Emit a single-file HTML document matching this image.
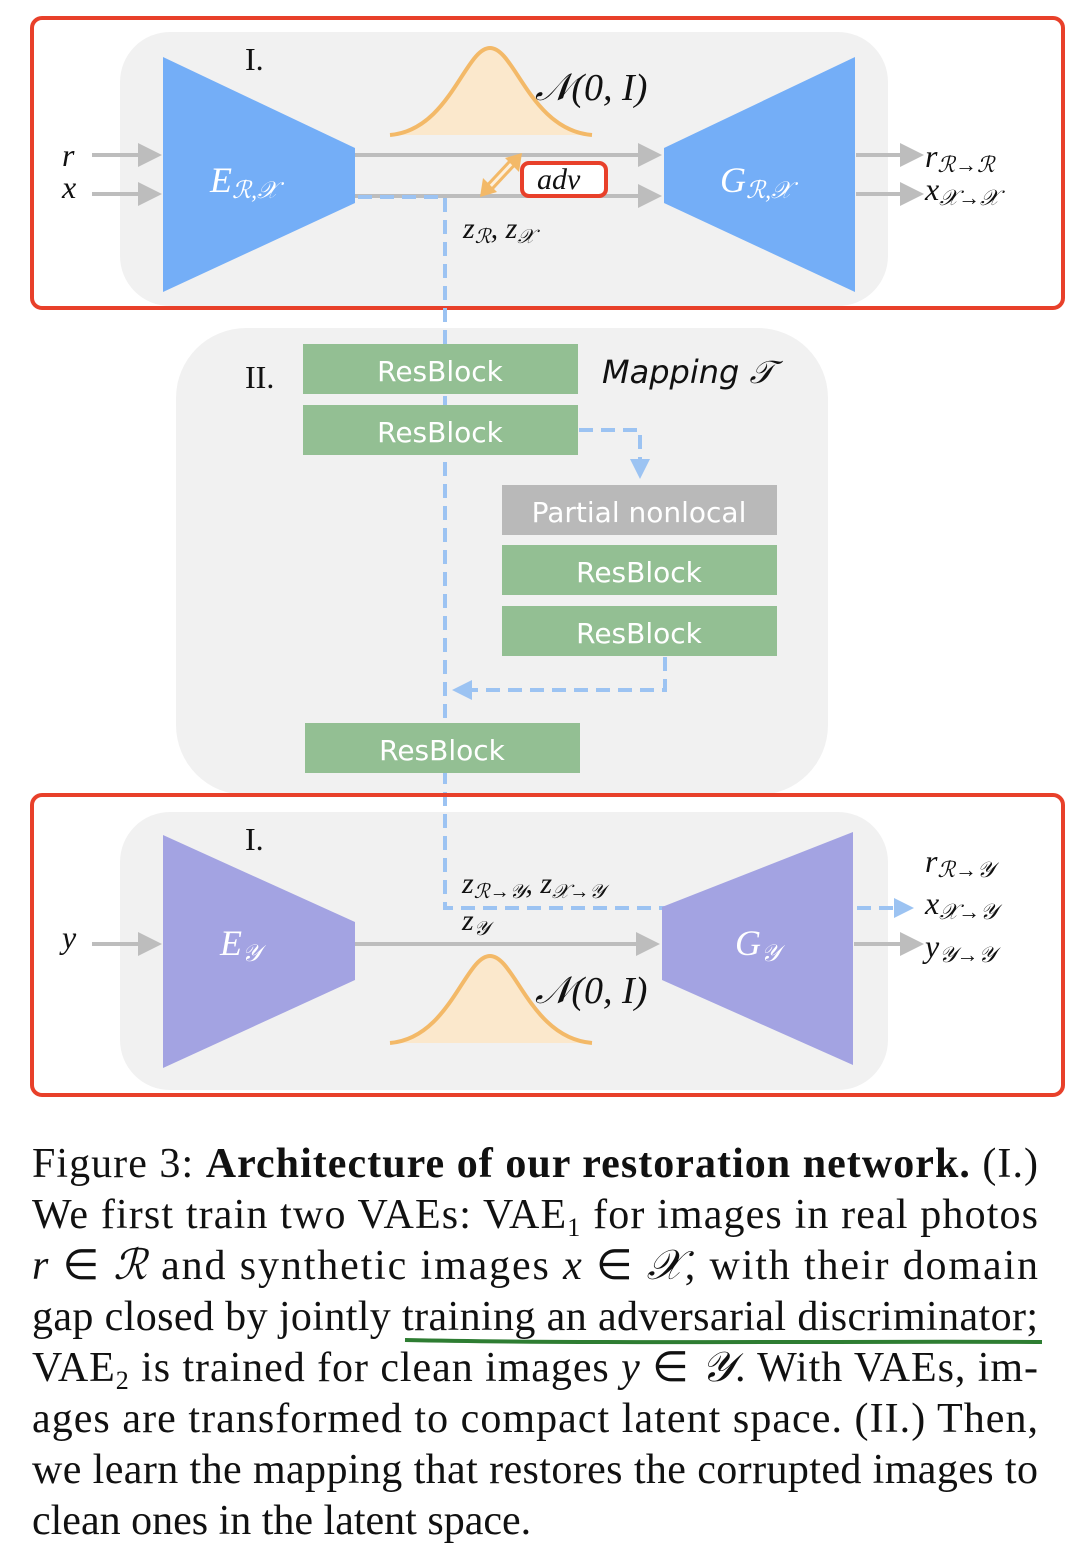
<!DOCTYPE html>
<html><head><meta charset="utf-8"><style>
html,body{margin:0;padding:0;background:#fff}
svg{display:block}
.m{font-family:"Liberation Serif",serif;font-style:italic;fill:#111}
.w{font-family:"Liberation Serif",serif;font-style:italic;fill:#fff}
.rb{font-family:"DejaVu Sans","Liberation Sans",sans-serif;fill:#fff;font-size:28px}
.c{font-family:"Liberation Serif",serif;font-size:42px;fill:#111}
</style></head><body>
<svg width="1082" height="1564" viewBox="0 0 1082 1564" xmlns="http://www.w3.org/2000/svg">
<defs>
<marker id="ag" markerWidth="6" markerHeight="6" refX="5" refY="3" orient="auto" markerUnits="strokeWidth"><path d="M0,0 L6,3 L0,6 z" fill="#bdbdbd"/></marker>
<marker id="ab" markerWidth="5" markerHeight="5" refX="4" refY="2.5" orient="auto" markerUnits="strokeWidth"><path d="M0,0 L5,2.5 L0,5 z" fill="#9cc3f2"/></marker>
</defs>
<!-- top panel -->
<rect x="120" y="32" width="768" height="274" rx="50" fill="#f1f1f1"/>
<rect x="176" y="328" width="652" height="467" rx="70" fill="#f1f1f1"/>
<rect x="120" y="812" width="768" height="278" rx="50" fill="#f1f1f1"/>
<rect x="32" y="18" width="1031" height="290" rx="10" fill="none" stroke="#e8402a" stroke-width="4"/>
<text x="245" y="70" class="c" style="font-size:32px">I.</text>
<path d="M390,135 C450,130 465,48 490,48 C515,48 530,130 592,135" fill="#fbe8cc" stroke="#f3b968" stroke-width="4"/>
<text x="535" y="100" class="m" style="font-size:38px">𝒩(0, I)</text>
<polygon points="163,57 355,148 355,203 163,292" fill="#74aef7"/>
<polygon points="664,148 855,57 855,292 664,203" fill="#74aef7"/>
<text x="210" y="192" class="w" style="font-size:36px">E<tspan font-size="24" dy="6">ℛ,𝒳</tspan></text>
<text x="720" y="192" class="w" style="font-size:36px">G<tspan font-size="24" dy="6">ℛ,𝒳</tspan></text>
<text x="62" y="166" class="m" style="font-size:32px">r</text>
<text x="62" y="198" class="m" style="font-size:32px">x</text>
<line x1="92" y1="155" x2="158" y2="155" stroke="#bdbdbd" stroke-width="4" marker-end="url(#ag)"/>
<line x1="92" y1="194" x2="158" y2="194" stroke="#bdbdbd" stroke-width="4" marker-end="url(#ag)"/>
<line x1="355" y1="155" x2="658" y2="155" stroke="#bdbdbd" stroke-width="4" marker-end="url(#ag)"/>
<line x1="355" y1="196" x2="658" y2="196" stroke="#bdbdbd" stroke-width="4" marker-end="url(#ag)"/>
<line x1="856" y1="155" x2="920" y2="155" stroke="#bdbdbd" stroke-width="4" marker-end="url(#ag)"/>
<line x1="856" y1="194" x2="920" y2="194" stroke="#bdbdbd" stroke-width="4" marker-end="url(#ag)"/>
<text x="925" y="167" class="m" style="font-size:32px">r<tspan font-size="22" dy="5">ℛ→ℛ</tspan></text>
<text x="925" y="200" class="m" style="font-size:32px">x<tspan font-size="22" dy="5">𝒳→𝒳</tspan></text>
<path d="M487,190 L515,160" stroke="#f3b968" stroke-width="9"/>
<path d="M487,190 L515,160" stroke="#fdf0dc" stroke-width="3"/>
<polygon points="480,197 483,178 497,192" fill="#f3b968"/>
<polygon points="522,153 519,172 505,158" fill="#f3b968"/>
<rect x="522" y="163" width="84" height="33" rx="7" fill="#fff" stroke="#e8402a" stroke-width="4"/>
<text x="537" y="189" class="m" style="font-size:30px">adv</text>
<text x="463" y="238" class="m" style="font-size:30px">z<tspan font-size="20" dy="5">ℛ</tspan><tspan dy="-5">, z</tspan><tspan font-size="20" dy="5">𝒳</tspan></text>
<!-- dashed lines (behind blocks) -->
<path d="M358,197 L445,197 L445,908 L910,908" fill="none" stroke="#9cc3f2" stroke-width="4" stroke-dasharray="14,8" marker-end="url(#ab)"/>
<path d="M579,430 L640,430 L640,475" fill="none" stroke="#9cc3f2" stroke-width="4" stroke-dasharray="14,8" marker-end="url(#ab)"/>
<path d="M665,657 L665,690 L456,690" fill="none" stroke="#9cc3f2" stroke-width="4" stroke-dasharray="14,8" marker-end="url(#ab)"/>
<!-- middle panel -->
<text x="245" y="388" class="c" style="font-size:32px">II.</text>
<text x="602" y="383" style="font-family:'DejaVu Sans',sans-serif;font-style:italic;font-size:32px;fill:#111">Mapping 𝒯</text>
<rect x="303" y="344" width="275" height="50" fill="#93bf93"/>
<rect x="303" y="405" width="275" height="50" fill="#93bf93"/>
<rect x="502" y="485" width="275" height="50" fill="#b9b9b9"/>
<rect x="502" y="545" width="275" height="50" fill="#93bf93"/>
<rect x="502" y="606" width="275" height="50" fill="#93bf93"/>
<rect x="305" y="723" width="275" height="50" fill="#93bf93"/>
<text x="440" y="381" class="rb" text-anchor="middle">ResBlock</text>
<text x="440" y="442" class="rb" text-anchor="middle">ResBlock</text>
<text x="639" y="522" class="rb" text-anchor="middle">Partial nonlocal</text>
<text x="639" y="582" class="rb" text-anchor="middle">ResBlock</text>
<text x="639" y="643" class="rb" text-anchor="middle">ResBlock</text>
<text x="442" y="760" class="rb" text-anchor="middle">ResBlock</text>
<!-- bottom panel -->
<rect x="32" y="795" width="1031" height="300" rx="10" fill="none" stroke="#e8402a" stroke-width="4"/>
<text x="245" y="850" class="c" style="font-size:32px">I.</text>
<polygon points="163,835 355,922 355,980 163,1068" fill="#a3a3e2"/>
<polygon points="662,907 853,832 853,1065 662,980" fill="#a3a3e2"/>
<text x="220" y="955" class="w" style="font-size:36px">E<tspan font-size="24" dy="6">𝒴</tspan></text>
<text x="735" y="955" class="w" style="font-size:36px">G<tspan font-size="24" dy="6">𝒴</tspan></text>
<text x="62" y="948" class="m" style="font-size:32px">y</text>
<line x1="92" y1="944" x2="158" y2="944" stroke="#bdbdbd" stroke-width="4" marker-end="url(#ag)"/>
<line x1="355" y1="944" x2="656" y2="944" stroke="#bdbdbd" stroke-width="4" marker-end="url(#ag)"/>
<line x1="854" y1="944" x2="920" y2="944" stroke="#bdbdbd" stroke-width="4" marker-end="url(#ag)"/>
<text x="462" y="893" class="m" style="font-size:30px">z<tspan font-size="20" dy="5">ℛ→𝒴</tspan><tspan dy="-5">, z</tspan><tspan font-size="20" dy="5">𝒳→𝒴</tspan></text>
<text x="462" y="930" class="m" style="font-size:30px">z<tspan font-size="20" dy="5">𝒴</tspan></text>
<text x="925" y="872" class="m" style="font-size:32px">r<tspan font-size="22" dy="5">ℛ→𝒴</tspan></text>
<text x="925" y="914" class="m" style="font-size:32px">x<tspan font-size="22" dy="5">𝒳→𝒴</tspan></text>
<text x="925" y="957" class="m" style="font-size:32px">y<tspan font-size="22" dy="5">𝒴→𝒴</tspan></text>
<path d="M390,1043 C450,1038 465,956 490,956 C515,956 530,1038 592,1043" fill="#fbe8cc" stroke="#f3b968" stroke-width="4"/>
<text x="535" y="1003" class="m" style="font-size:38px">𝒩(0, I)</text>
<!-- caption -->
<text x="32" y="1177" class="c" textLength="1006" lengthAdjust="spacing">Figure 3: <tspan font-weight="bold">Architecture of our restoration network.</tspan> (I.)</text>
<text x="32" y="1228" class="c" textLength="1006" lengthAdjust="spacing">We first train two VAEs: VAE<tspan font-size="26" dy="8">1</tspan><tspan dy="-8"> for images in real photos</tspan></text>
<text x="32" y="1279" class="c" textLength="1006" lengthAdjust="spacing"><tspan font-style="italic">r</tspan> ∈ <tspan font-style="italic">ℛ</tspan> and synthetic images <tspan font-style="italic">x</tspan> ∈ <tspan font-style="italic">𝒳</tspan>, with their domain</text>
<text x="32" y="1330" class="c" textLength="1006" lengthAdjust="spacing">gap closed by jointly training an adversarial discriminator;</text>
<path d="M405,1340 C600,1344 850,1341 1042,1342" stroke="#2e7d32" stroke-width="4" fill="none"/>
<text x="32" y="1381" class="c" textLength="1006" lengthAdjust="spacing">VAE<tspan font-size="26" dy="8">2</tspan><tspan dy="-8"> is trained for clean images </tspan><tspan font-style="italic">y</tspan> ∈ <tspan font-style="italic">𝒴</tspan>. With VAEs, im-</text>
<text x="32" y="1432" class="c" textLength="1006" lengthAdjust="spacing">ages are transformed to compact latent space. (II.) Then,</text>
<text x="32" y="1483" class="c" textLength="1006" lengthAdjust="spacing">we learn the mapping that restores the corrupted images to</text>
<text x="32" y="1534" class="c">clean ones in the latent space.</text>
</svg>
</body></html>
